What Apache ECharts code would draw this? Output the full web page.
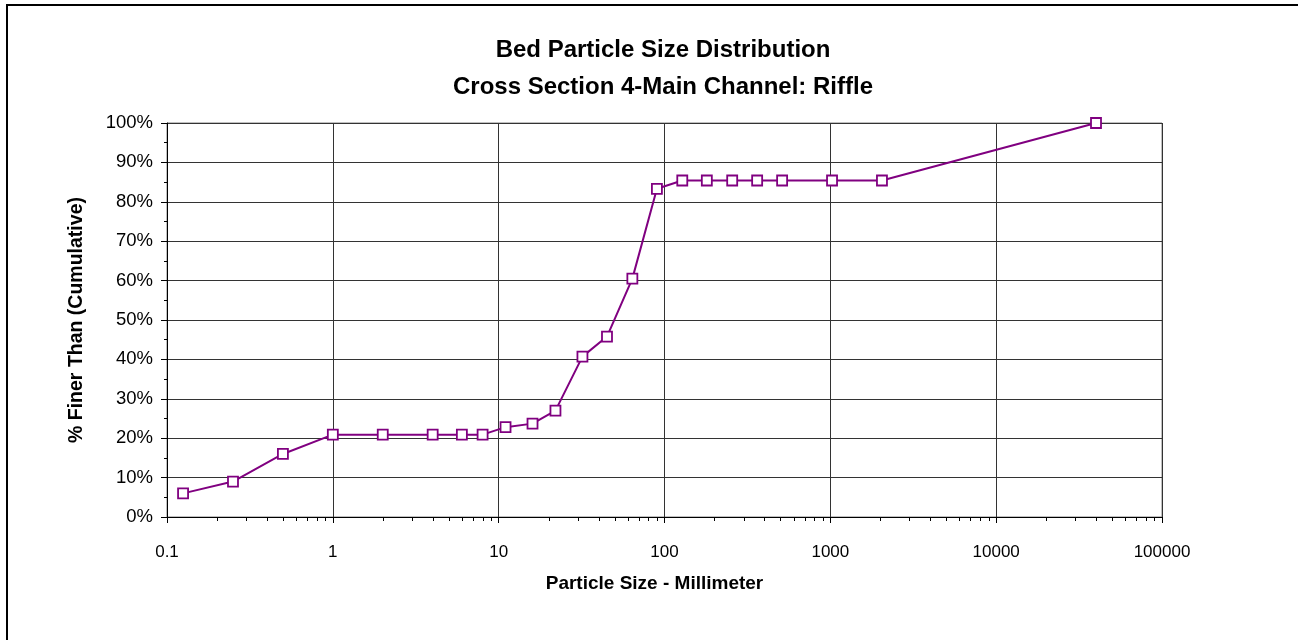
<!DOCTYPE html>
<html>
<head>
<meta charset="utf-8">
<title>Bed Particle Size Distribution</title>
<script src="https://cdn.jsdelivr.net/npm/echarts@6/dist/echarts.min.js"></script>
<style>
  html, body { margin: 0; padding: 0; background: #fff; }
  #chart { width: 1298px; height: 640px; }
</style>
</head>
<body>
<div id="chart"></div>
<script>
// Sieve sizes (mm) and cumulative percent finer
const particleSizes = [0.125, 0.25, 0.5, 1, 2, 4, 6, 8, 11, 16, 22, 32, 45, 64, 90, 128, 180, 256, 362, 512, 1024, 2048, 40000];
const percentFiner  = [6.0, 9.0, 16.0, 20.9, 20.9, 20.9, 20.9, 20.9, 22.8, 23.7, 27.0, 40.7, 45.8, 60.5, 83.3, 85.4, 85.4, 85.4, 85.4, 85.4, 85.4, 85.4, 100];

const xTickLabels = ['0.1', '1', '10', '100', '1000', '10000', '100000'];
const yTickLabels = ['0%', '10%', '20%', '30%', '40%', '50%', '60%', '70%', '80%', '90%', '100%'];

const titleLines = ['Bed Particle Size Distribution', 'Cross Section 4-Main Channel: Riffle'];
const xAxisTitle = 'Particle Size - Millimeter';
const yAxisTitle = '% Finer Than (Cumulative)';

const FONT = 'Arial, "Liberation Sans", sans-serif';
const PURPLE = '#800080';

// minor ticks of the log axis at 2..9 within every decade
const minorTickValues = [];
for (let d = -1; d < 5; d++) {
  for (let k = 2; k <= 9; k++) {
    minorTickValues.push([k * Math.pow(10, d), 0]);
  }
}

const chart = echarts.init(document.getElementById('chart'), null, { renderer: 'canvas' });

chart.setOption({
  animation: false,
  backgroundColor: '#fff',
  title: {
    text: titleLines.join('\n'),
    left: 658,
    textAlign: 'center',
    top: 27,
    textStyle: { fontFamily: FONT, fontWeight: 'bold', fontSize: 24, lineHeight: 37, color: '#000' }
  },
  graphic: [{
    type: 'rect',
    shape: { x: 7, y: 5, width: 1400, height: 800 },
    style: { fill: 'none', stroke: '#000', lineWidth: 2 },
    silent: true,
    z: 100
  }],
  grid: {
    left: 167, right: 136, top: 123, bottom: 123,
    show: true, borderColor: '#808080', borderWidth: 1, backgroundColor: '#fff'
  },
  xAxis: {
    type: 'log',
    logBase: 10,
    min: 0.1,
    max: 100000,
    name: xAxisTitle,
    nameLocation: 'middle',
    nameGap: 57,
    nameTextStyle: { fontFamily: FONT, fontWeight: 'bold', fontSize: 19, color: '#000', padding: [0, 20, 0, 0] },
    axisLine: { show: true, lineStyle: { color: '#000', width: 1 } },
    axisTick: { show: true, inside: false, length: 6, lineStyle: { color: '#000' } },
    axisLabel: {
      margin: 27,
      fontFamily: FONT, fontSize: 17, color: '#000',
      formatter: function (v) {
        const i = Math.round(Math.log10(v)) + 1;
        return xTickLabels[i] !== undefined ? xTickLabels[i] : '';
      }
    },
    splitLine: { show: true, lineStyle: { color: '#333', width: 1 } }
  },
  yAxis: {
    type: 'value',
    min: 0,
    max: 100,
    interval: 10,
    name: yAxisTitle,
    nameLocation: 'middle',
    nameGap: 80,
    nameRotate: 90,
    nameTextStyle: { fontFamily: FONT, fontWeight: 'bold', fontSize: 19.5, color: '#000' },
    axisLine: { show: true, lineStyle: { color: '#000', width: 1 } },
    axisTick: { show: true, inside: false, length: 6, lineStyle: { color: '#000' } },
    minorTick: { show: true, splitNumber: 2, length: 3, lineStyle: { color: '#000' } },
    axisLabel: {
      margin: 14,
      fontFamily: FONT, fontSize: 18.5, color: '#000',
      formatter: function (v) { return yTickLabels[Math.round(v / 10)]; }
    },
    splitLine: { show: true, lineStyle: { color: '#333', width: 1 } }
  },
  series: [
    {
      type: 'custom',
      silent: true,
      clip: false,
      z: 5,
      data: minorTickValues,
      encode: { x: 0, y: 1 },
      renderItem: function (params, api) {
        const p = api.coord([api.value(0), 0]);
        return {
          type: 'line',
          shape: { x1: Math.round(p[0]) + 0.5, y1: p[1], x2: Math.round(p[0]) + 0.5, y2: p[1] + 4 },
          style: { stroke: '#000', lineWidth: 1 }
        };
      }
    },
    {
      type: 'line',
      name: 'Percent Finer',
      data: particleSizes.map(function (s, i) { return [s, percentFiner[i]]; }),
      symbol: 'rect',
      symbolSize: 10,
      showAllSymbol: true,
      lineStyle: { color: PURPLE, width: 2 },
      itemStyle: { color: '#fff', borderColor: PURPLE, borderWidth: 1.8 },
      z: 10
    }
  ]
});
</script>
</body>
</html>
